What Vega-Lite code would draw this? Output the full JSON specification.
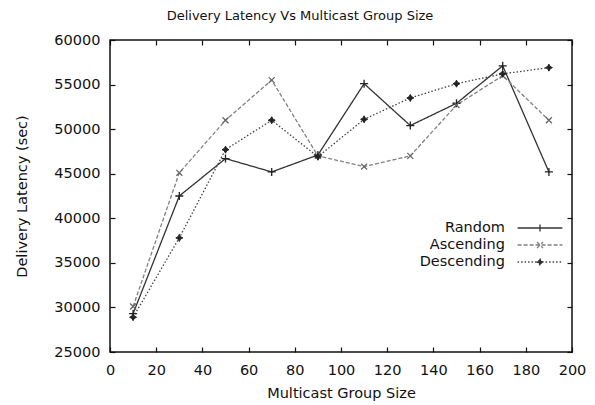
{
  "$schema": "https://vega.github.io/schema/vega-lite/v6.json",
  "width": 462,
  "height": 312,
  "autosize": {"type": "none"},
  "padding": {"left": 110, "top": 40, "right": 23, "bottom": 53},
  "background": "white",
  "config": {
    "view": {"stroke": "#111", "strokeWidth": 1.5},
    "font": "DejaVu Sans",
    "axis": {
      "labelFont": "DejaVu Sans", "labelFontSize": 14.5, "labelColor": "#111",
      "titleFont": "DejaVu Sans", "titleFontSize": 14.5, "titleFontWeight": "normal", "titleColor": "#111",
      "domain": false, "grid": false, "tickSize": -5, "tickColor": "#111", "tickWidth": 1.2,
      "labelFlush": false, "labelOverlap": false
    }
  },
  "title": {
    "text": "Delivery Latency Vs Multicast Group Size",
    "font": "DejaVu Sans", "fontSize": 13, "fontWeight": "normal", "color": "#111",
    "anchor": "middle", "dx": -41, "dy": 20, "baseline": "bottom", "offset": 16
  },
  "data": {
    "values": [
      {"size": 10, "series": "Random", "latency": 29300},
      {"size": 30, "series": "Random", "latency": 42500},
      {"size": 50, "series": "Random", "latency": 46700},
      {"size": 70, "series": "Random", "latency": 45200},
      {"size": 90, "series": "Random", "latency": 47100},
      {"size": 110, "series": "Random", "latency": 55100},
      {"size": 130, "series": "Random", "latency": 50400},
      {"size": 150, "series": "Random", "latency": 52900},
      {"size": 170, "series": "Random", "latency": 57100},
      {"size": 190, "series": "Random", "latency": 45200},
      {"size": 10, "series": "Ascending", "latency": 30100},
      {"size": 30, "series": "Ascending", "latency": 45100},
      {"size": 50, "series": "Ascending", "latency": 51000},
      {"size": 70, "series": "Ascending", "latency": 55500},
      {"size": 90, "series": "Ascending", "latency": 47000},
      {"size": 110, "series": "Ascending", "latency": 45800},
      {"size": 130, "series": "Ascending", "latency": 47000},
      {"size": 150, "series": "Ascending", "latency": 52700},
      {"size": 170, "series": "Ascending", "latency": 56000},
      {"size": 190, "series": "Ascending", "latency": 51000},
      {"size": 10, "series": "Descending", "latency": 28900},
      {"size": 30, "series": "Descending", "latency": 37800},
      {"size": 50, "series": "Descending", "latency": 47700},
      {"size": 70, "series": "Descending", "latency": 51000},
      {"size": 90, "series": "Descending", "latency": 46900},
      {"size": 110, "series": "Descending", "latency": 51100},
      {"size": 130, "series": "Descending", "latency": 53500},
      {"size": 150, "series": "Descending", "latency": 55100},
      {"size": 170, "series": "Descending", "latency": 56200},
      {"size": 190, "series": "Descending", "latency": 56900}
    ]
  },
  "layer": [
    {
      "mark": {"type": "line", "strokeWidth": 1.3},
      "encoding": {
        "x": {
          "field": "size", "type": "quantitative",
          "scale": {"domain": [0, 200], "nice": false},
          "axis": {
            "values": [0, 20, 40, 60, 80, 100, 120, 140, 160, 180, 200],
            "format": "d", "title": "Multicast Group Size",
            "labelPadding": 16, "titleY": 41, "titleBaseline": "middle"
          }
        },
        "y": {
          "field": "latency", "type": "quantitative",
          "scale": {"domain": [25000, 60000], "nice": false, "zero": false},
          "axis": {
            "values": [25000, 30000, 35000, 40000, 45000, 50000, 55000, 60000],
            "format": "d", "title": "Delivery Latency (sec)",
            "labelPadding": 15, "titleX": -88, "titleY": 156, "titleAngle": 270,
            "titleAlign": "center", "titleBaseline": "middle"
          }
        },
        "stroke": {
          "field": "series", "type": "nominal",
          "scale": {"domain": ["Random", "Ascending", "Descending"], "range": ["#333333", "#808080", "#444444"]},
          "legend": {
            "orient": "none", "legendX": 422, "legendY": 180, "title": null, "padding": 0,
            "symbolSize": 196, "symbolStrokeWidth": 1.3, "symbolType": "M-3.2,0H3.2",
            "labelAlign": "right", "labelOffset": -43,
            "labelFont": "DejaVu Sans", "labelFontSize": 14.5, "labelColor": "#111", "rowPadding": 2,
            "encode": {
              "symbols": {
                "update": {
                  "shape": {"signal": "datum.value === 'Random' ? 'M-3.2,0H3.2M0,-0.5V0.5' : datum.value === 'Ascending' ? 'M-3.2,0H3.2M-0.43,-0.43L0.43,0.43M-0.43,0.43L0.43,-0.43' : 'M-3.2,0H3.2M0,-0.5L0.17,-0.17L0.5,0L0.17,0.17L0,0.5L-0.17,0.17L-0.5,0L-0.17,-0.17Z'"},
                  "fill": {"signal": "datum.value === 'Ascending' ? 'transparent' : '#222'"},
                  "strokeDash": {"signal": "datum.value === 'Random' ? [1,0] : datum.value === 'Ascending' ? [4,2] : [1.5,2]"}
                }
              }
            }
          }
        },
        "strokeDash": {
          "field": "series", "type": "nominal",
          "scale": {"domain": ["Random", "Ascending", "Descending"], "range": [[1, 0], [4, 2], [1.5, 2]]},
          "legend": null
        }
      }
    },
    {
      "transform": [{"filter": "datum.series === 'Random'"}],
      "mark": {"type": "point", "shape": "M-1.15,0H1.15M0,-1.15V1.15", "size": 49, "filled": false, "stroke": "#222", "strokeWidth": 1.3, "opacity": 1},
      "encoding": {
        "x": {
          "field": "size", "type": "quantitative",
          "axis": {"orient": "top", "values": [0, 20, 40, 60, 80, 100, 120, 140, 160, 180, 200], "labels": false, "title": null}
        },
        "y": {
          "field": "latency", "type": "quantitative",
          "axis": {"orient": "right", "values": [25000, 30000, 35000, 40000, 45000, 50000, 55000, 60000], "labels": false, "title": null}
        }
      }
    },
    {
      "transform": [{"filter": "datum.series === 'Ascending'"}],
      "mark": {"type": "point", "shape": "M-0.85,-0.85L0.85,0.85M-0.85,0.85L0.85,-0.85", "size": 49, "filled": false, "stroke": "#666", "strokeWidth": 1.3, "opacity": 1},
      "encoding": {
        "x": {"field": "size", "type": "quantitative", "axis": null},
        "y": {"field": "latency", "type": "quantitative", "axis": null}
      }
    },
    {
      "transform": [{"filter": "datum.series === 'Descending'"}],
      "mark": {"type": "point", "shape": "M0,-1L0.35,-0.35L1,0L0.35,0.35L0,1L-0.35,0.35L-1,0L-0.35,-0.35Z", "size": 49, "filled": true, "fill": "#222", "stroke": "#222", "strokeWidth": 1, "opacity": 1},
      "encoding": {
        "x": {"field": "size", "type": "quantitative", "axis": null},
        "y": {"field": "latency", "type": "quantitative", "axis": null}
      }
    }
  ],
  "resolve": {"axis": {"x": "independent", "y": "independent"}}
}
